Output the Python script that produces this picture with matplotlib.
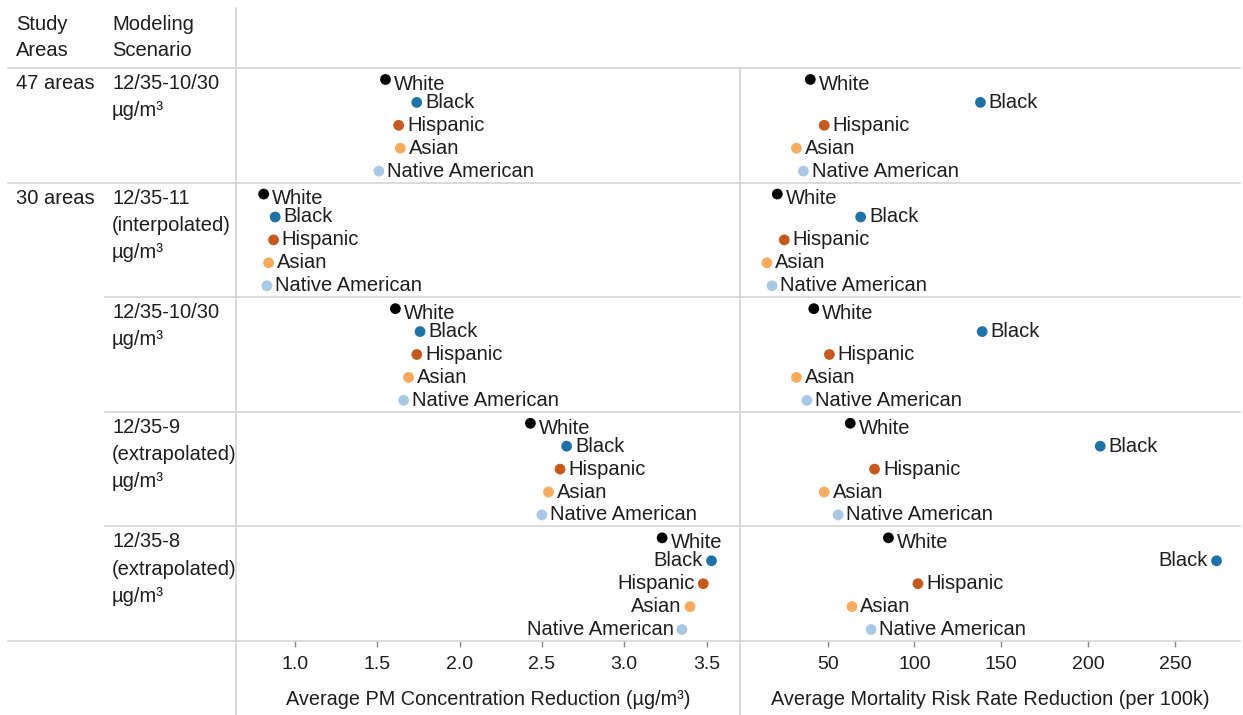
import numpy as np
import matplotlib
matplotlib.use('Agg')
import matplotlib.pyplot as plt
from matplotlib.lines import Line2D

plt.rcParams['font.family'] = ['Liberation Sans', 'DejaVu Sans']

# data
groups = ['White', 'Black', 'Hispanic', 'Asian', 'Native American']
colors = ['#000000', '#1f72a6', '#c65a1e', '#f8aa5e', '#a9c8e6']

study_areas = ['47 areas', '30 areas', '', '', '']
scenarios = ['12/35-10/30\nµg/m³',
             '12/35-11\n(interpolated)\nµg/m³',
             '12/35-10/30\nµg/m³',
             '12/35-9\n(extrapolated)\nµg/m³',
             '12/35-8\n(extrapolated)\nµg/m³']

# rows = scenarios, columns = groups
pm_reduction = [
    [1.55, 1.74, 1.63, 1.64, 1.51],
    [0.81, 0.88, 0.87, 0.84, 0.83],
    [1.61, 1.76, 1.74, 1.69, 1.66],
    [2.43, 2.65, 2.61, 2.54, 2.50],
    [3.23, 3.53, 3.48, 3.40, 3.35],
]
mortality_reduction = [
    [40, 138, 48, 32, 36],
    [21, 69, 25, 15, 18],
    [42, 139, 51, 32, 38],
    [63, 207, 77, 48, 56],
    [85, 274, 102, 64, 75],
]
# labels drawn on the left side of the dot (row, group)
pm_left = [(4, 1), (4, 2), (4, 3), (4, 4)]
mort_left = [(4, 1)]

pm_ticks = [1.0, 1.5, 2.0, 2.5, 3.0, 3.5]
mort_ticks = [50, 100, 150, 200, 250]

W, H = 1243, 715
fig = plt.figure(figsize=(W / 100, H / 100), dpi=100)
fig.patch.set_facecolor('white')


def fx(x):
    return x / W


def fy(y):
    return 1 - y / H


grid_c = '#d4d4d4'
text_c = '#1e1e1e'
fs = 14.5

# table lines
def hline(y, x0, x1=1240):
    fig.add_artist(Line2D([fx(x0), fx(x1)], [fy(y), fy(y)], color=grid_c, lw=1.2))


def vline(x, y0, y1=715):
    fig.add_artist(Line2D([fx(x), fx(x)], [fy(y0), fy(y1)], color=grid_c, lw=1.2))


row_tops = [68, 182.6, 297.2, 411.8, 526.4, 641]
hline(row_tops[0], 8)
hline(row_tops[1], 8)
for y in row_tops[2:5]:
    hline(y, 105)
hline(row_tops[5], 8)
vline(236, 8)
vline(740, 68)

# header texts
fig.text(fx(16), fy(15), 'Study\nAreas', ha='left', va='top', fontsize=fs,
         color=text_c, linespacing=1.5)
fig.text(fx(112), fy(15), 'Modeling\nScenario', ha='left', va='top', fontsize=fs,
         color=text_c, linespacing=1.5)
for i in range(5):
    if study_areas[i]:
        fig.text(fx(16), fy(row_tops[i] + 6), study_areas[i], ha='left', va='top',
                 fontsize=fs, color=text_c)
    fig.text(fx(112), fy(row_tops[i] + 6), scenarios[i], ha='left', va='top',
             fontsize=fs, color=text_c, linespacing=1.55)


def panel(x0, x1, values, xlim, ticks, ticklabels, xlabel, left_set):
    ax = fig.add_axes([fx(x0), fy(641), (x1 - x0) / W, (641 - 68) / H])
    ax.set_facecolor('none')
    ax.set_xlim(*xlim)
    ax.set_ylim(5, 0)
    for s in ax.spines.values():
        s.set_visible(False)
    ax.set_yticks([])
    ax.set_xticks(ticks)
    ax.set_xticklabels(ticklabels)
    ax.tick_params(axis='x', length=4, width=1, color='#888888', pad=7,
                   labelsize=14, labelcolor=text_c)
    ax.set_xlabel(xlabel, fontsize=14.3, color=text_c, labelpad=12)
    vals = np.array(values)
    for r in range(vals.shape[0]):
        for k in range(vals.shape[1]):
            y = r + 0.1 + 0.2 * k
            ax.scatter(vals[r, k], y, s=60, color=colors[k], zorder=3,
                       edgecolors='none')
            dy = -3.5 if k == 0 else 0
            if (r, k) in left_set:
                ax.annotate(groups[k], (vals[r, k], y), xytext=(-6, dy),
                            textcoords='offset points', ha='right', va='center',
                            fontsize=fs, color=text_c)
            else:
                ax.annotate(groups[k], (vals[r, k], y), xytext=(6, dy),
                            textcoords='offset points', ha='left', va='center',
                            fontsize=fs, color=text_c)
    return ax


panel(236, 740, pm_reduction, (0.642, 3.703), pm_ticks,
      ['%.1f' % t for t in pm_ticks],
      'Average PM Concentration Reduction (µg/m³)', pm_left)
panel(740, 1240, mortality_reduction, (-0.5, 287.5), mort_ticks,
      [str(t) for t in mort_ticks],
      'Average Mortality Risk Rate Reduction (per 100k)', mort_left)

fig.savefig('out.png', dpi=100)
